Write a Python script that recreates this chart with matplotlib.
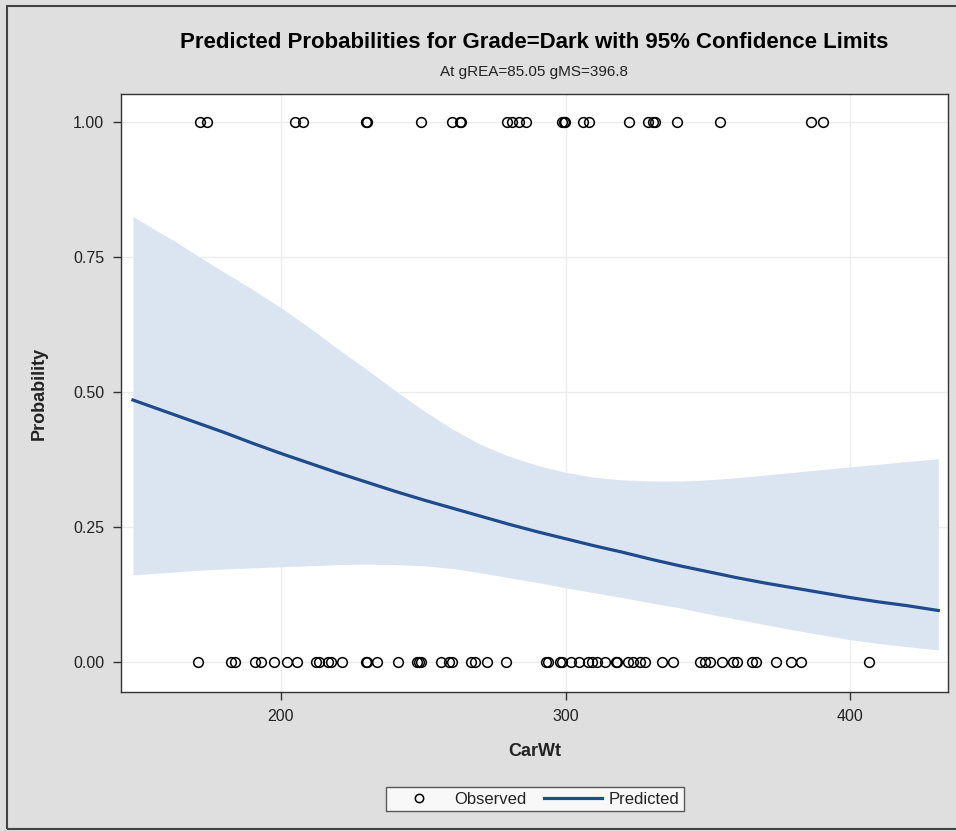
import matplotlib
matplotlib.use("Agg")
import matplotlib.pyplot as plt
from matplotlib import font_manager
from matplotlib.lines import Line2D
from matplotlib.patches import Rectangle

# ---- data ----
obs_x_one = [171.4, 173.9, 204.9, 207.8, 230.0, 230.3, 249.1, 260.1, 262.9, 263.2,
             279.5, 281.3, 283.7, 286.2, 298.6, 299.4, 299.8, 306.0, 308.1, 322.3,
             329.0, 330.7, 331.4, 339.2, 354.4, 386.2, 390.5]
obs_x_zero = [170.7, 182.3, 183.7, 190.8, 192.9, 197.5, 202.1, 205.7, 212.4, 213.4,
              216.6, 217.7, 221.6, 230.0, 230.4, 233.9, 241.0, 247.7, 248.4, 249.1,
              256.2, 259.0, 260.1, 266.8, 268.2, 272.4, 279.2, 293.3, 293.8, 297.9,
              298.9, 302.1, 304.9, 307.8, 309.2, 311.0, 313.8, 317.7, 318.0, 321.9,
              323.7, 326.1, 327.9, 333.9, 337.8, 347.3, 349.1, 350.9, 355.1, 359.0,
              360.4, 365.7, 366.8, 373.9, 379.2, 382.7, 406.7]

curve_x = [148, 156, 164, 172, 180, 190, 200, 210, 220, 230, 240, 250, 260, 270, 280,
           290, 300, 310, 320, 330, 340, 350, 360, 370, 380, 390, 400, 410, 420, 431]
predicted = [0.485, 0.470, 0.455, 0.440, 0.425, 0.405, 0.386, 0.368, 0.350, 0.333,
             0.316, 0.300, 0.285, 0.270, 0.255, 0.241, 0.228, 0.215, 0.203, 0.190,
             0.178, 0.167, 0.156, 0.146, 0.137, 0.128, 0.119, 0.111, 0.104, 0.095]
upper_cl = [0.825, 0.800, 0.775, 0.748, 0.722, 0.690, 0.656, 0.619, 0.580, 0.542,
            0.503, 0.466, 0.432, 0.403, 0.381, 0.364, 0.351, 0.342, 0.337, 0.335,
            0.335, 0.337, 0.341, 0.346, 0.351, 0.356, 0.361, 0.366, 0.371, 0.376]
lower_cl = [0.161, 0.164, 0.167, 0.170, 0.172, 0.174, 0.176, 0.178, 0.180, 0.181,
            0.180, 0.178, 0.173, 0.165, 0.156, 0.147, 0.137, 0.128, 0.119, 0.109,
            0.100, 0.089, 0.079, 0.069, 0.059, 0.050, 0.041, 0.034, 0.028, 0.022]

x_ticks = [200, 300, 400]
y_ticks = [0.0, 0.25, 0.5, 0.75, 1.0]
y_ticklabels = ["0.00", "0.25", "0.50", "0.75", "1.00"]

title = "Predicted Probabilities for Grade=Dark with 95% Confidence Limits"
subtitle = "At gREA=85.05 gMS=396.8"

# ---- fonts ----
names = {f.name for f in font_manager.fontManager.ttflist}
fam = [n for n in ["Liberation Sans Narrow", "Liberation Sans", "DejaVu Sans"] if n in names]
plt.rcParams["font.family"] = fam

BG = "#dfdfdf"
TXT = "#222222"
BAND = "#dbe5f1"
LINE = "#1f4a8c"

fig = plt.figure(figsize=(9.56, 8.31), dpi=100, facecolor=BG)
W, H = 956, 831

# outer border
fig.patches.append(Rectangle((7 / W, 1 - 829 / H), 1.0, (829 - 6) / H,
                             transform=fig.transFigure, fill=False,
                             edgecolor="#444444", linewidth=1.5))

ax = fig.add_axes([121 / W, 1 - 692 / H, (948 - 121) / W, (692 - 94) / H])
ax.set_facecolor("white")

ax.fill_between(curve_x, lower_cl, upper_cl, color=BAND, linewidth=0, zorder=1)
ax.plot(curve_x, predicted, color=LINE, linewidth=2.3, zorder=3)
ax.plot(obs_x_one, [1.0] * len(obs_x_one), linestyle="none", marker="o",
        markersize=7, markerfacecolor="none", markeredgecolor="black",
        markeredgewidth=1.1, zorder=4)
ax.plot(obs_x_zero, [0.0] * len(obs_x_zero), linestyle="none", marker="o",
        markersize=7, markerfacecolor="none", markeredgecolor="black",
        markeredgewidth=1.1, zorder=4)

ax.set_xlim(143.8, 434.4)
ax.set_ylim(-0.056, 1.052)
ax.set_xticks(x_ticks)
ax.set_xticklabels([str(t) for t in x_ticks])
ax.set_yticks(y_ticks)
ax.set_yticklabels(y_ticklabels)
ax.grid(True, color="#ececec", linewidth=1.0, zorder=0)
ax.set_axisbelow(True)
ax.tick_params(axis="both", direction="out", length=6, width=1, color="#333333",
               labelsize=11.5, labelcolor=TXT, pad=6)
for s in ax.spines.values():
    s.set_color("#333333")
    s.set_linewidth(1.0)

ax.set_xlabel("CarWt", fontsize=13, fontweight="bold", color=TXT, labelpad=14)
ax.set_ylabel("Probability", fontsize=13, fontweight="bold", color=TXT, labelpad=18)

cx = (121 + 948) / 2 / W
fig.text(cx, 1 - 43 / H, title, ha="center", va="center", fontsize=16,
         fontweight="bold", color="black")
fig.text(cx, 1 - 72 / H, subtitle, ha="center", va="center", fontsize=11,
         color=TXT)

handles = [
    Line2D([], [], linestyle="none", marker="o", markersize=6, markerfacecolor="none",
           markeredgecolor="black", markeredgewidth=1.1),
    Line2D([], [], color=LINE, linewidth=2.3),
]
leg = fig.legend(handles, ["Observed", "Predicted"], loc="center",
                 bbox_to_anchor=(cx, 1 - 799 / H), ncol=2, frameon=True,
                 fancybox=False, edgecolor="#333333", fontsize=12,
                 handlelength=3.5, handletextpad=0.4, columnspacing=1.0,
                 borderpad=0.25, labelcolor=TXT)
leg.get_frame().set_linewidth(1.0)
leg.get_frame().set_facecolor("white")

fig.savefig("out.png", dpi=100, facecolor=BG)
